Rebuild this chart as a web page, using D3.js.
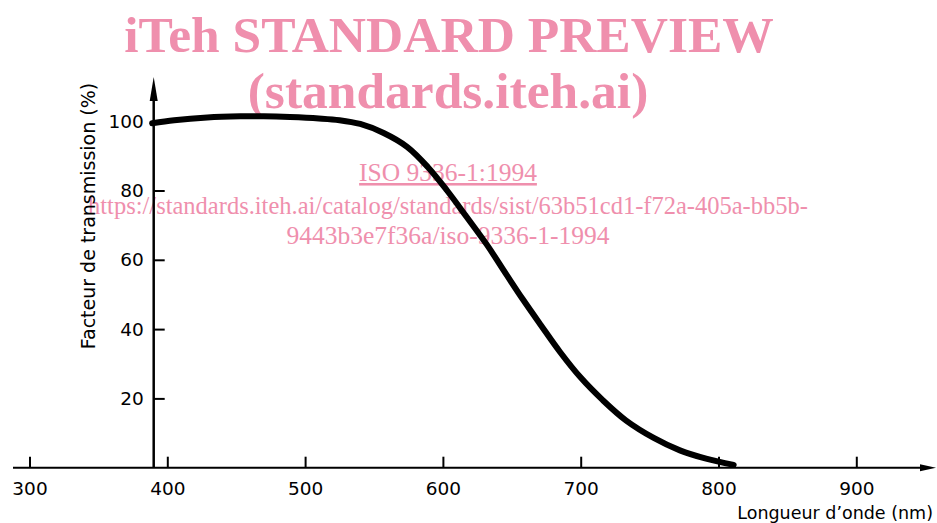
<!DOCTYPE html>
<html><head><meta charset="utf-8">
<script src="https://cdn.jsdelivr.net/npm/d3@7"></script>
<style>body{margin:0;background:#fff}svg{display:block}</style>
</head><body><svg id="c" width="937" height="523"></svg>
<script>
const wavelength = [389,405,429,453,470,489,510,525,540,557,574,589,603,617,632,646,658,671,685,700,716,733,753,772,791,811];
const transmission = [99.4,100.3,101.1,101.4,101.4,101.2,100.8,100.3,99.2,96.6,92.6,86.8,80.0,72.5,64.3,55.8,48.6,41.2,33.4,26.0,19.5,13.6,8.6,5.0,2.6,0.8];
const xTicks = [300,400,500,600,700,800,900];
const yTicks = [20,40,60,80,100];
const xTitle = "Longueur d\u2019onde (nm)";
const yTitle = "Facteur de transmission (%)";
const wmTitle = ["iTeh STANDARD PREVIEW","(standards.iteh.ai)"];
const wmLink = "ISO 9336-1:1994";
const wmUrl = ["https://standards.iteh.ai/catalog/standards/sist/63b51cd1-f72a-405a-bb5b-","9443b3e7f36a/iso-9336-1-1994"];

const svg = d3.select("#c");
const x = d3.scaleLinear().domain([300,900]).range([29.5,856.3]);
const y = d3.scaleLinear().domain([0,100]).range([467.7,121.2]);
const font = "'DejaVu Sans', sans-serif";
const pink = "#ef8fad";

// watermark
const wm = svg.append("g").attr("fill",pink).attr("text-anchor","middle").attr("font-family","'Liberation Serif', serif");
wm.append("text").attr("x",449).attr("y",52).attr("font-size",51.5).attr("font-weight","bold").text(wmTitle[0]);
wm.append("text").attr("x",448).attr("y",108).attr("font-size",51.5).attr("font-weight","bold").text(wmTitle[1]);
wm.append("text").attr("x",448).attr("y",181).attr("font-size",25.5).attr("text-decoration","underline").text(wmLink);
wm.append("text").attr("x",448).attr("y",214).attr("font-size",24.5).text(wmUrl[0]);
wm.append("text").attr("x",448).attr("y",244).attr("font-size",25.5).text(wmUrl[1]);

// x axis line with arrow
const x0 = 153.7;
svg.append("line").attr("x1",13).attr("x2",925).attr("y1",y(0)).attr("y2",y(0)).attr("stroke","#000").attr("stroke-width",2);
svg.append("path").attr("d",`M936,${y(0)} L920,${y(0)-3.5} L920,${y(0)+3.5} Z`).attr("fill","#000");
// y axis line with arrow
svg.append("line").attr("x1",x0).attr("x2",x0).attr("y1",y(0)).attr("y2",95).attr("stroke","#000").attr("stroke-width",2.5);
svg.append("path").attr("d",`M${x0},77 L${x0-4},101 L${x0+4},101 Z`).attr("fill","#000");

const xa = svg.append("g").attr("transform",`translate(0,${y(0)})`)
  .call(d3.axisBottom(x).tickValues(xTicks).tickSize(-11).tickPadding(14.5).tickFormat(d3.format("d")));
xa.select(".domain").remove();
xa.selectAll(".tick line").attr("stroke-width",2);
xa.selectAll("text").attr("font-family",font).attr("font-size",18.5).attr("fill","#000");

const ya = svg.append("g").attr("transform",`translate(${x0},0)`)
  .call(d3.axisLeft(y).tickValues(yTicks).tickSize(-11).tickPadding(10).tickFormat(d3.format("d")));
ya.select(".domain").remove();
ya.selectAll(".tick line").attr("stroke-width",2);
ya.selectAll("text").attr("font-family",font).attr("font-size",18.5).attr("fill","#000");

// titles
svg.append("text").attr("x",933).attr("y",519).attr("text-anchor","end").attr("font-family",font).attr("font-size",17.5).text(xTitle);
svg.append("text").attr("transform","translate(95,216) rotate(-90)").attr("text-anchor","middle").attr("font-family",font).attr("font-size",19).text(yTitle);

// curve
const data = wavelength.map((w,i)=>({w, t: transmission[i]}));
svg.append("path").datum(data)
  .attr("d", d3.line().x(d=>x(d.w)).y(d=>y(d.t)).curve(d3.curveCatmullRom.alpha(0.5)))
  .attr("fill","none").attr("stroke","#000").attr("stroke-width",6).attr("stroke-linecap","round");
</script></body></html>
